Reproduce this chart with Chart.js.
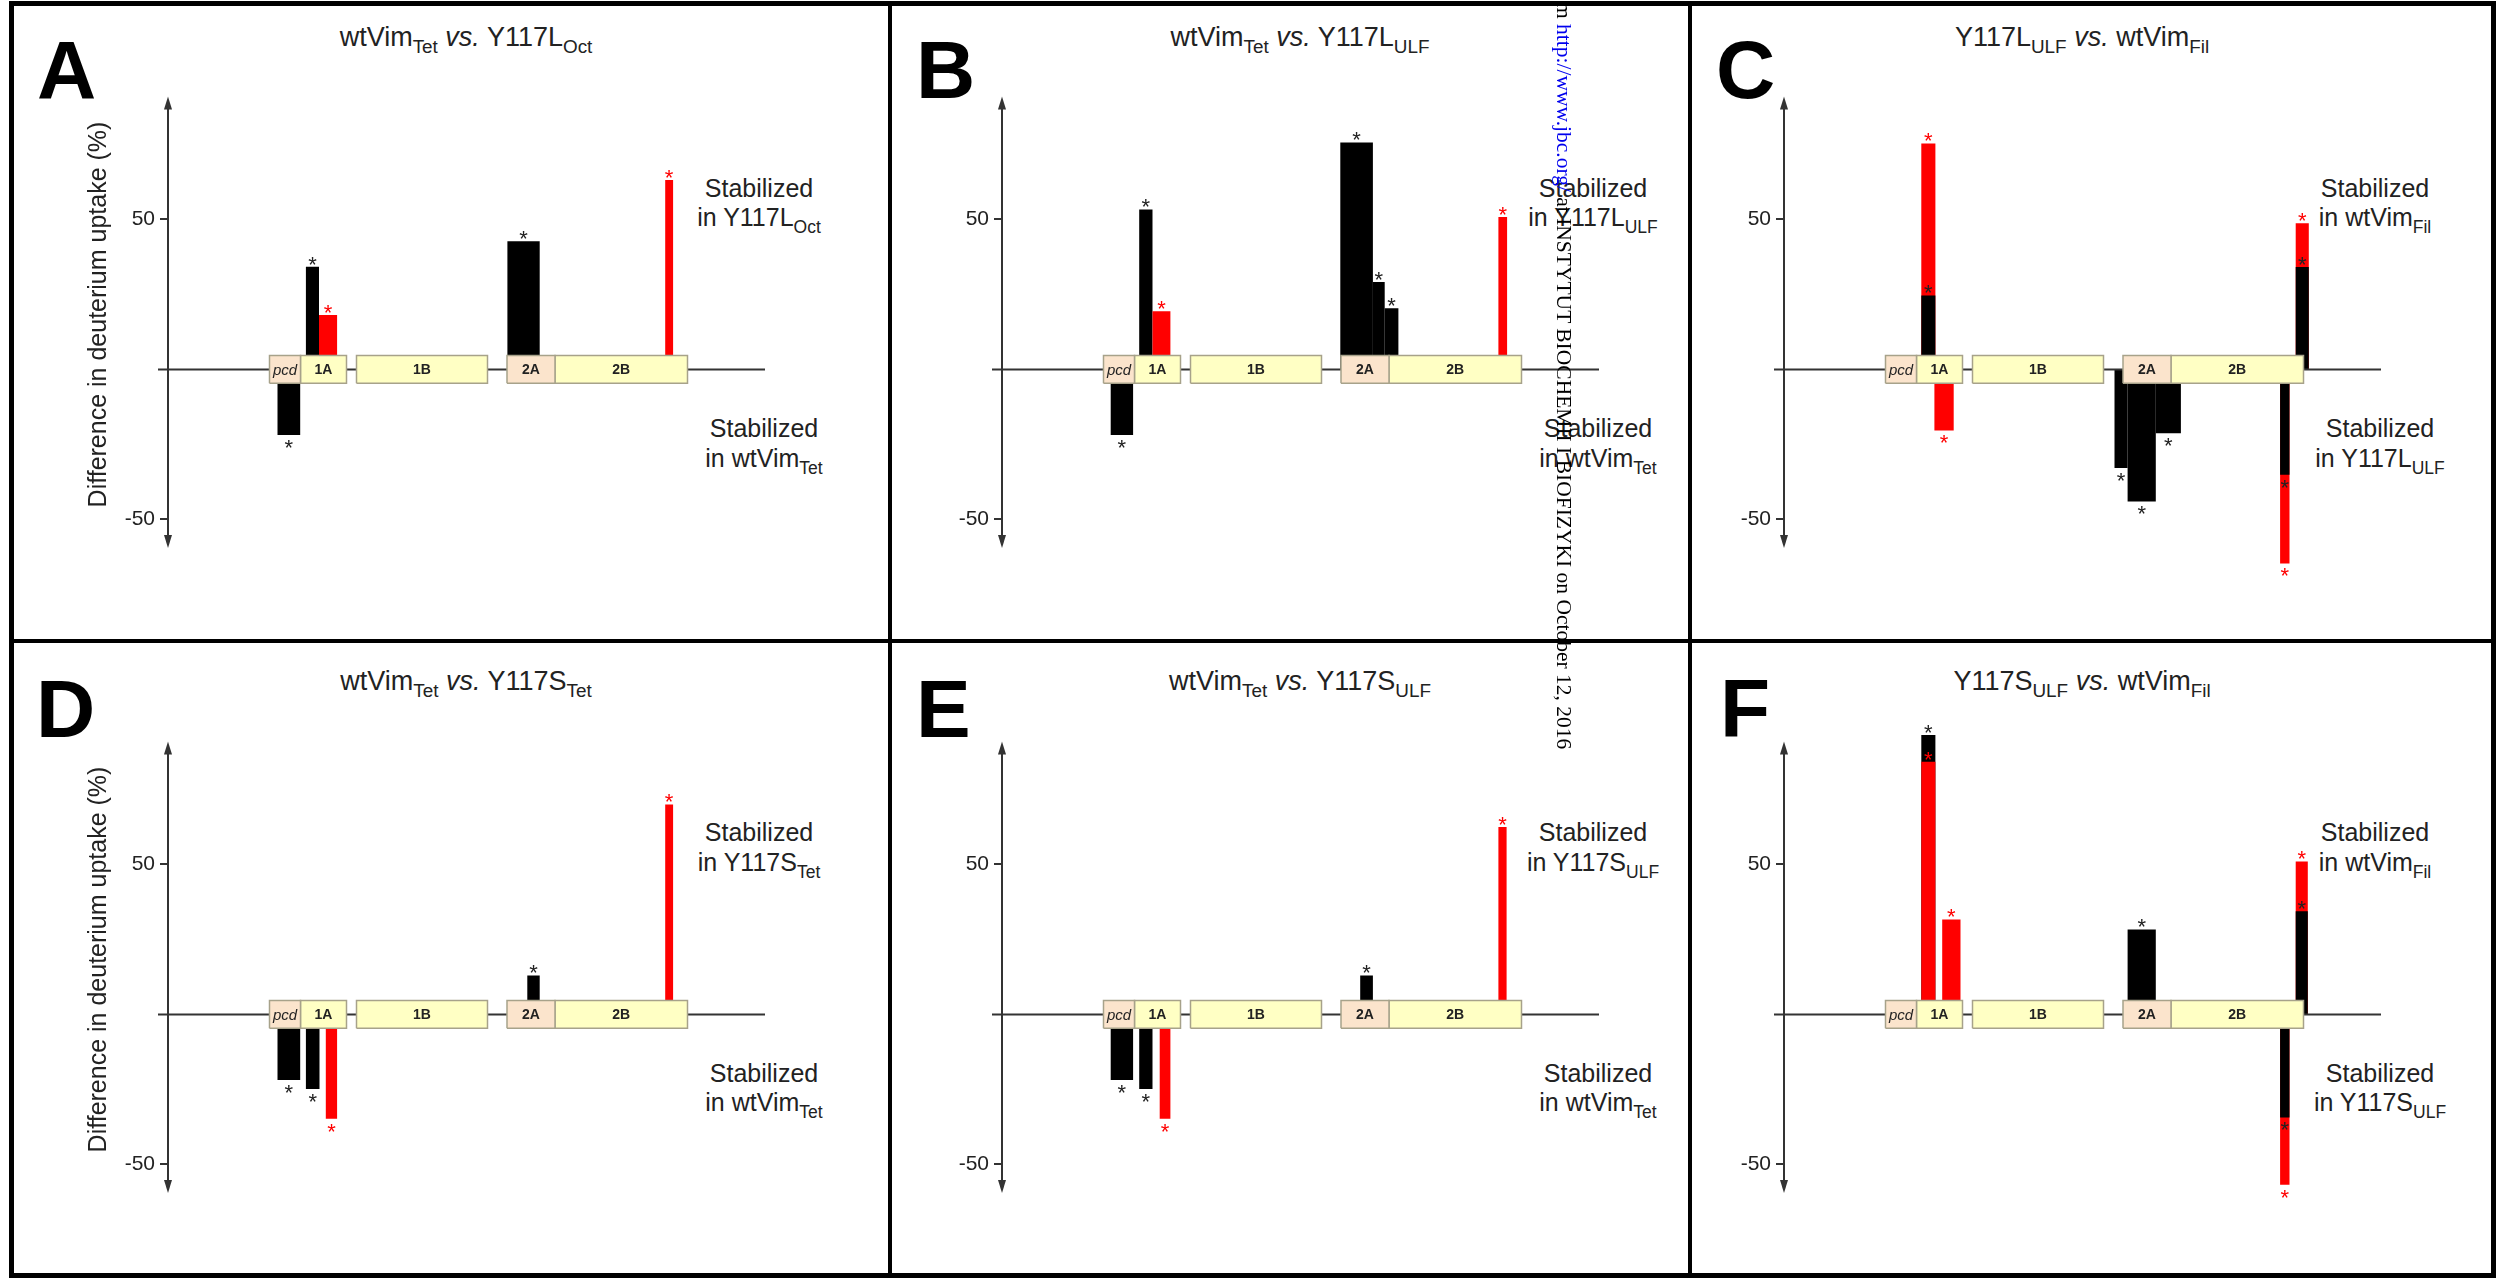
<!DOCTYPE html>
<html>
<head>
<meta charset="utf-8">
<title>Deuterium uptake differences</title>
<script src="https://cdn.jsdelivr.net/npm/chart.js@4.4.1/dist/chart.umd.min.js"></script>
<style>
  body { margin: 0; background: #fff; }
  #fig { position: relative; width: 2499px; height: 1278px; overflow: hidden; background: #fff;
         font-family: "Liberation Sans", Arial, sans-serif; color: #222; }
  .rule { position: absolute; background: #000; }
  .frame { position: absolute; left: 9px; top: 1px; width: 2487px; height: 1277px; border: 5px solid #000; box-sizing: border-box; }
  .letter { position: absolute; font-size: 82px; font-weight: bold; line-height: 1; color: #000; }
  .title { position: absolute; font-size: 27px; line-height: 1; white-space: nowrap; transform: translateX(-50%); }
  .side { position: absolute; font-size: 25px; line-height: 29.5px; text-align: center; white-space: nowrap; transform: translateX(-50%); }
  .s { font-size: 0.7em; vertical-align: -0.38em; line-height: 0; }
  canvas { position: absolute; }
  #mark { position: absolute; left: 1575px; top: 2px; font-family: "Liberation Serif", "Times New Roman", serif;
          font-size: 21.5px; line-height: 22px; white-space: nowrap; color: #000;
          transform: rotate(90deg); transform-origin: 0 0; }
  #mark .link { color: #0000ee; }
</style>
</head>
<body>
<div id="fig"></div>
<script>
// Value axis (difference in deuterium uptake, %)
const yTicks = [-50, 50];
const yAxisTitle = 'Difference in deuterium uptake (%)';
const AXIS_TOP = 91, AXIS_BOTTOM = -59.5;
const Y_MIN = -70, Y_MAX = 106.6;

// Schematic position along vimentin (arbitrary units from the value axis)
const X_MAX = 700;
const BASELINE_START = -10, BASELINE_END = 597;
const BOX_HALF = 4.6;

// Domains
const domainNames = ['pcd', '1A', '1B', '2A', '2B'];
const domainStart = [101.5, 132.5, 188.5, 339, 387];
const domainEnd = [132.5, 178.5, 319.5, 387, 519.5];

// Peptide bars: [start, end, difference %, series], listed back to front
const barsA = [
    [109.5, 132.2, -21.9, 'k'],
    [137.9, 151.0, 34.2, 'k'],
    [151.0, 169.1, 18.1, 'r'],
    [339.4, 371.7, 42.7, 'k'],
    [497.2, 505.1, 63.1, 'r']
];
const barsB = [
    [108.7, 131.1, -21.9, 'k'],
    [137.2, 150.5, 53.3, 'k'],
    [150.5, 168.4, 19.4, 'r'],
    [338.3, 370.9, 75.6, 'k'],
    [370.9, 382.7, 29.1, 'k'],
    [382.7, 396.4, 20.4, 'k'],
    [496.4, 505.1, 50.8, 'r']
];
const barsC = [
    [137.3, 151.4, 75.3, 'r'],
    [137.3, 151.4, 24.6, 'k'],
    [150.4, 169.7, -20.4, 'r'],
    [330.5, 343.6, -32.9, 'k'],
    [343.6, 371.8, -44.0, 'k'],
    [371.8, 396.9, -21.3, 'k'],
    [511.7, 524.8, 48.7, 'r'],
    [511.7, 524.8, 34.1, 'k'],
    [496.1, 505.5, -64.7, 'r'],
    [496.1, 505.5, -35.1, 'k']
];
const barsD = [
    [109.5, 132.2, -21.9, 'k'],
    [137.9, 151.5, -24.9, 'k'],
    [157.8, 169.1, -34.8, 'r'],
    [359.3, 371.7, 13.0, 'k'],
    [497.2, 505.1, 70.0, 'r']
];
const barsE = [
    [108.7, 131.1, -21.9, 'k'],
    [137.2, 150.5, -24.9, 'k'],
    [157.7, 168.4, -34.8, 'r'],
    [358.2, 370.9, 13.0, 'k'],
    [496.4, 504.6, 62.5, 'r']
];
const barsF = [
    [137.3, 151.4, 93.1, 'k'],
    [137.3, 151.4, 84.2, 'r'],
    [158.2, 176.5, 31.6, 'r'],
    [343.6, 371.8, 28.3, 'k'],
    [511.7, 523.8, 51.0, 'r'],
    [511.7, 523.8, 34.4, 'k'],
    [496.1, 505.5, -56.8, 'r'],
    [496.1, 505.5, -34.4, 'k']
];

// Panel texts
const panelLetters = ['A', 'B', 'C', 'D', 'E', 'F'];
const panelTitles = [
    'wtVim_{Tet} vs. Y117L_{Oct}',
    'wtVim_{Tet} vs. Y117L_{ULF}',
    'Y117L_{ULF} vs. wtVim_{Fil}',
    'wtVim_{Tet} vs. Y117S_{Tet}',
    'wtVim_{Tet} vs. Y117S_{ULF}',
    'Y117S_{ULF} vs. wtVim_{Fil}'
];
const upperLabels = ['in Y117L_{Oct}', 'in Y117L_{ULF}', 'in wtVim_{Fil}', 'in Y117S_{Tet}', 'in Y117S_{ULF}', 'in wtVim_{Fil}'];
const lowerLabels = ['in wtVim_{Tet}', 'in wtVim_{Tet}', 'in Y117L_{ULF}', 'in wtVim_{Tet}', 'in wtVim_{Tet}', 'in Y117S_{ULF}'];
const panelBars = [barsA, barsB, barsC, barsD, barsE, barsF];

// Styles and placement
const seriesColor = { k: '#000000', r: '#ff0000' };
const starColor = { k: '#222222', r: '#ff0000' };
const domainFill = { pcd: '#fbe4cc', '2A': '#fbe4cc' };
const YELLOW = '#ffffc4';
const AXIS_W = 88, CANVAS_H = 565, CANVAS_W = AXIS_W + X_MAX;
const placement = [
    { axisX: 168, zeroY: 373.5, letterX: 37, axisTitle: true },
    { axisX: 1002, zeroY: 373.5, letterX: 916, axisTitle: false },
    { axisX: 1784, zeroY: 373.5, letterX: 1716, axisTitle: false },
    { axisX: 168, zeroY: 1018, letterX: 36, axisTitle: true },
    { axisX: 1002, zeroY: 1018, letterX: 916, axisTitle: false },
    { axisX: 1784, zeroY: 1018, letterX: 1720, axisTitle: false }
];

Chart.defaults.font.family = '"Liberation Sans", Arial, sans-serif';

function markup(s) {
    return s.replace(/_\{([^}]*)\}/g, '<span class="s">$1</span>').replace(/\bvs\./g, '<i>vs.</i>');
}

function addDiv(cls, html, css) {
    const d = document.createElement('div');
    d.className = cls;
    d.innerHTML = html;
    Object.assign(d.style, css);
    fig.appendChild(d);
    return d;
}

// Axis arrows, domain names and significance stars
const figureMarks = {
    id: 'figureMarks',
    afterDatasetsDraw(chart) {
        const { ctx, chartArea, scales: { x, y } } = chart;
        ctx.save();

        const ax = chartArea.left;
        const yt = y.getPixelForValue(AXIS_TOP);
        const yb = y.getPixelForValue(AXIS_BOTTOM);
        ctx.strokeStyle = '#333';
        ctx.fillStyle = '#333';
        ctx.lineWidth = 2;
        ctx.beginPath();
        ctx.moveTo(ax, yt + 8);
        ctx.lineTo(ax, yb - 8);
        ctx.stroke();
        ctx.beginPath();
        ctx.moveTo(ax, yt); ctx.lineTo(ax - 4, yt + 13); ctx.lineTo(ax + 4, yt + 13);
        ctx.closePath(); ctx.fill();
        ctx.beginPath();
        ctx.moveTo(ax, yb); ctx.lineTo(ax - 4, yb - 13); ctx.lineTo(ax + 4, yb - 13);
        ctx.closePath(); ctx.fill();

        ctx.textAlign = 'center';
        ctx.textBaseline = 'middle';
        ctx.fillStyle = '#222';
        const y0 = y.getPixelForValue(0);
        domainNames.forEach((name, i) => {
            const cx = (x.getPixelForValue(domainStart[i]) + x.getPixelForValue(domainEnd[i])) / 2;
            ctx.font = name === 'pcd' ? 'italic 15px "Liberation Sans", Arial' : 'bold 14px "Liberation Sans", Arial';
            ctx.fillText(name, cx, y0 + 1);
        });

        ctx.font = '22px "Liberation Sans", Arial';
        ctx.textBaseline = 'alphabetic';
        chart.data.datasets.forEach((ds, i) => {
            if (ds.role !== 'bar') return;
            const pts = chart.getDatasetMeta(i).data;
            const cx = (pts[1].x + pts[2].x) / 2;
            const tip = pts[1].y;
            ctx.fillStyle = ds.starColor;
            ctx.fillText('*', cx, ds.value >= 0 ? tip + 4.8 : tip + 19.8);
        });
        ctx.restore();
    }
};

function buildChart(canvas, bars, showTitle) {
    const datasets = [];
    domainNames.forEach((name, i) => {
        const x0 = domainStart[i], x1 = domainEnd[i];
        datasets.push({
            role: 'domain',
            label: name,
            data: [{ x: x0, y: -BOX_HALF }, { x: x0, y: BOX_HALF }, { x: x1, y: BOX_HALF }, { x: x1, y: -BOX_HALF }, { x: x0, y: -BOX_HALF }],
            fill: 'shape',
            backgroundColor: domainFill[name] || YELLOW,
            borderColor: '#a7a28a',
            borderWidth: 1.5,
            pointRadius: 0,
            order: 0,
            clip: false
        });
    });
    datasets.push({
        role: 'baseline',
        data: [{ x: BASELINE_START, y: 0 }, { x: BASELINE_END, y: 0 }],
        borderColor: '#333',
        borderWidth: 2,
        pointRadius: 0,
        fill: false,
        order: 1,
        clip: false
    });
    bars.forEach(([x0, x1, v, s], i) => {
        datasets.push({
            role: 'bar',
            value: v,
            starColor: starColor[s],
            data: [{ x: x0, y: 0 }, { x: x0, y: v }, { x: x1, y: v }, { x: x1, y: 0 }],
            fill: 'shape',
            backgroundColor: seriesColor[s],
            borderColor: 'transparent',
            borderWidth: 0,
            pointRadius: 0,
            order: 2 + bars.length - i,
            clip: false
        });
    });

    return new Chart(canvas.getContext('2d'), {
        type: 'line',
        data: { datasets },
        plugins: [figureMarks],
        options: {
            responsive: false,
            animation: false,
            events: [],
            devicePixelRatio: 1,
            layout: { padding: 0 },
            plugins: { legend: { display: false }, tooltip: { enabled: false } },
            elements: { line: { tension: 0 } },
            scales: {
                x: { type: 'linear', display: false, min: 0, max: X_MAX },
                y: {
                    type: 'linear',
                    min: Y_MIN,
                    max: Y_MAX,
                    afterFit(scale) { scale.width = AXIS_W; },
                    afterBuildTicks(scale) { scale.ticks = yTicks.map(v => ({ value: v })); },
                    border: { display: false },
                    grid: { drawOnChartArea: false, drawTicks: true, tickLength: 8, color: '#333', lineWidth: 2 },
                    ticks: { color: '#222', padding: 5, font: { size: 21 } },
                    title: { display: showTitle, text: yAxisTitle, color: '#222', font: { size: 25 } }
                }
            }
        }
    });
}

const fig = document.getElementById('fig');

// Frame and panel dividers
addDiv('frame', '', {});
addDiv('rule', '', { left: '888px', top: '1px', width: '4px', height: '1277px' });
addDiv('rule', '', { left: '1688px', top: '1px', width: '4px', height: '1277px' });
addDiv('rule', '', { left: '9px', top: '639px', width: '2487px', height: '4px' });

placement.forEach((p, i) => {
    const letterBaseline = p.zeroY < 600 ? 98 : 737;
    addDiv('letter', panelLetters[i], { left: p.letterX + 'px', top: (letterBaseline - 69.4) + 'px' });
    addDiv('title', markup(panelTitles[i]), { left: (p.axisX + 298) + 'px', top: (p.zeroY - 327 - 22.9) + 'px' });
    addDiv('side', 'Stabilized<br>' + markup(upperLabels[i]), { left: (p.axisX + 591) + 'px', top: (p.zeroY - 199.9) + 'px' });
    addDiv('side', 'Stabilized<br>' + markup(lowerLabels[i]), { left: (p.axisX + 596) + 'px', top: (p.zeroY + 40.6) + 'px' });

    const canvas = document.createElement('canvas');
    canvas.width = CANVAS_W;
    canvas.height = CANVAS_H;
    canvas.style.left = (p.axisX - AXIS_W) + 'px';
    canvas.style.top = Math.round(p.zeroY - (Y_MAX / (Y_MAX - Y_MIN)) * CANVAS_H) + 'px';
    fig.appendChild(canvas);
    buildChart(canvas, panelBars[i], p.axisTitle);
});

// Download stamp running down the middle of the figure
addDiv('', 'm <span class="link">http://www.jbc.org/</span> at INSTYTUT BIOCHEMII I BIOFIZYKI on October 12, 2016', {}).id = 'mark';
</script>
</body>
</html>
